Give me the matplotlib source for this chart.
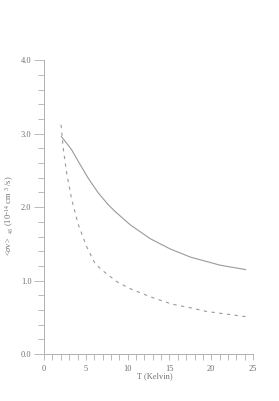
import matplotlib
matplotlib.use('Agg')
import matplotlib.pyplot as plt
from matplotlib.ticker import MultipleLocator, FormatStrFormatter

plt.rcParams['font.family'] = 'Liberation Serif'
plt.rcParams['mathtext.fontset'] = 'custom'
plt.rcParams['mathtext.rm'] = 'Liberation Serif'
plt.rcParams['mathtext.it'] = 'Liberation Serif:italic'

# solid curve
t_solid = [2.07, 2.9, 3.3, 4.1, 5.3, 6.5, 7.7, 8.5, 10.3, 12.7, 15.1, 17.5, 21.05, 24.1]
v_solid = [2.96, 2.84, 2.78, 2.62, 2.39, 2.19, 2.03, 1.94, 1.76, 1.57, 1.43, 1.32, 1.21, 1.15]

# dashed curve
t_dash = [2.03, 2.31, 2.71, 3.31, 4.1, 5.1, 6.1, 7.18, 8.77, 10.3, 12.7, 15.3, 17.5, 19.45, 24.1]
v_dash = [3.12, 2.78, 2.46, 2.10, 1.76, 1.46, 1.23, 1.12, 0.98, 0.89, 0.78, 0.68, 0.63, 0.58, 0.51]

grey = '#9a9a9a'
tgrey = '#707070'

fig = plt.figure(figsize=(2.79, 4.01), dpi=100)
ax = fig.add_axes([0.158, 0.117, 0.749, 0.733])

ax.plot(t_solid, v_solid, color=grey, lw=0.8)
ax.plot(t_dash, v_dash, color=grey, lw=0.8, dashes=(3, 4))

ax.set_xlim(0, 25)
ax.set_ylim(0, 4.0)
ax.spines['top'].set_visible(False)
ax.spines['right'].set_visible(False)
for s in ['left', 'bottom']:
    ax.spines[s].set_color('#b0b0b0')
    ax.spines[s].set_linewidth(0.7)

ax.xaxis.set_major_locator(MultipleLocator(5))
ax.xaxis.set_minor_locator(MultipleLocator(1))
ax.yaxis.set_major_locator(MultipleLocator(1.0))
ax.yaxis.set_minor_locator(MultipleLocator(0.2))
ax.yaxis.set_major_formatter(FormatStrFormatter('%.1f'))

ax.tick_params(axis='x', which='both', direction='out', length=4, width=0.6,
               color='#b0b0b0', labelsize=6, labelcolor=tgrey, pad=4)
ax.tick_params(axis='y', which='major', direction='out', length=7, width=0.6,
               color='#b0b0b0', labelsize=6, labelcolor=tgrey, pad=2)
ax.tick_params(axis='y', which='minor', direction='out', length=4, width=0.6,
               color='#b0b0b0')

ax.set_xlabel('T (Kelvin)', fontsize=6, color=tgrey)
ax.xaxis.set_label_coords(0.53, -0.062)
ax.set_ylabel(r'<$\sigma$v>  $_{43}$ (10$^{-14}$ cm $^{3}$ /s)', fontsize=6, color=tgrey)
ax.yaxis.set_label_coords(-0.135, 0.47)

fig.savefig('out.png', dpi=100)
